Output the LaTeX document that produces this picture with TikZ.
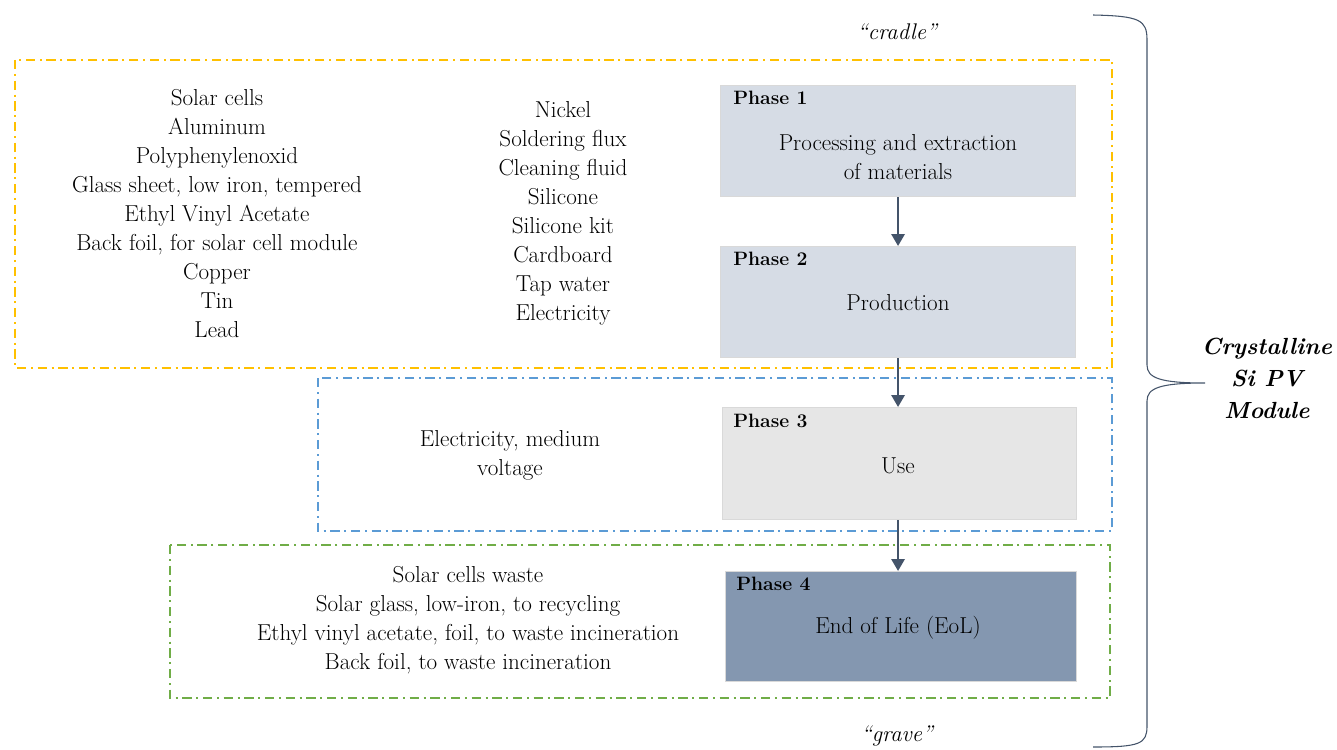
\documentclass[tikz,border=0pt]{standalone}
\usetikzlibrary{arrows.meta,decorations.pathreplacing}
\definecolor{ylw}{HTML}{FFC000}
\definecolor{blu}{HTML}{5B9BD5}
\definecolor{grn}{HTML}{70AD47}
\definecolor{pone}{HTML}{D6DCE5}
\definecolor{pthree}{HTML}{E6E6E6}
\definecolor{pfour}{HTML}{8497B0}
\definecolor{arr}{HTML}{44546A}
\begin{document}
\begin{tikzpicture}[x=0.75pt,y=-0.75pt,
  zone/.style={line width=1.5pt,dash pattern=on 7pt off 3.5pt on 1.5pt off 3.5pt},
  phasebox/.style={draw=white!85!black,line width=0.8pt,inner sep=0pt,anchor=north west},
  plabel/.style={font=\fontsize{14.5}{16}\selectfont\bfseries,anchor=north west,inner sep=0pt},
  ptext/.style={font=\fontsize{17.3}{21.75}\selectfont,align=center},
  list/.style={font=\fontsize{17.3}{21.75}\selectfont,align=center,anchor=north},
  flow/.style={draw=arr,line width=1.6pt,-{Triangle[length=9pt,width=10pt]}}]
\useasboundingbox (0,0) rectangle (1337,749);
% zones
\draw[zone,ylw] (15,60) rectangle (1112,368);
\draw[zone,blu] (318,378) rectangle (1112,531);
\draw[zone,grn] (170,545) rectangle (1110,698);
% phase boxes
\node[phasebox,fill=pone,minimum width=355*0.75pt,minimum height=111*0.75pt] (p1) at (720,85) {};
\node[phasebox,fill=pone,minimum width=355*0.75pt,minimum height=111*0.75pt] (p2) at (720,246) {};
\node[phasebox,fill=pthree,minimum width=354*0.75pt,minimum height=112*0.75pt] (p3) at (722,407) {};
\node[phasebox,fill=pfour,minimum width=351*0.75pt,minimum height=110*0.75pt] (p4) at (725,571) {};
\node[plabel] (l1) at (733,91) {Phase 1};
\node[plabel] (l2) at (733,252) {Phase 2};
\node[plabel] (l3) at (733,414) {Phase 3};
\node[plabel] (l4) at (736,577) {Phase 4};
\node[ptext] (t1) at (898,157) {Processing and extraction\\of materials};
\node[ptext] (t2) at (898,303) {Production};
\node[ptext] (t3) at (898,466) {Use};
\node[ptext] (t4) at (898,628) {End of Life (EoL)};
% arrows
\draw[flow] (p1.south) -- (p1.south |- p2.north);
\draw[flow] (p2.south) -- (p2.south |- p3.north);
\draw[flow] (p3.south -| p2.south) -- (p2.south |- p4.north);
% lists
\node[list] (m1) at (217,85) {Solar cells\\Aluminum\\Polyphenylenoxid\\Glass sheet, low iron, tempered\\Ethyl Vinyl Acetate\\Back foil, for solar cell module\\Copper\\Tin\\Lead};
\node[list] (m2) at (563,97) {Nickel\\Soldering flux\\Cleaning fluid\\Silicone\\Silicone kit\\Cardboard\\Tap water\\Electricity};
\node[ptext] (m3) at (510,455) {Electricity, medium\\voltage};
\node[list] (m4) at (468,562) {Solar cells waste\\Solar glass, low-iron, to recycling\\Ethyl vinyl acetate, foil, to waste incineration\\Back foil, to waste incineration};
% cradle / grave
\node[ptext,font=\fontsize{17}{20}\selectfont\itshape] (cr) at (897,32) {``cradle''};
\node[ptext,font=\fontsize{17}{20}\selectfont\itshape] (gr) at (897,736) {``grave''};
% brace
\coordinate (bt) at (1093,15);
\coordinate (bm) at (1205,383);
\coordinate (bb) at (1093,747);
\draw[arr,line width=0.8pt] (bt) .. controls (1140,16) and (1147,20) .. (1147,40)
  -- (1147,365) .. controls (1147,378) and (1160,383) .. (bm)
  .. controls (1160,383) and (1147,388) .. (1147,401)
  -- (1147,726) .. controls (1147,744) and (1140,747) .. (bb);
\node[ptext,font=\fontsize{17.5}{24}\selectfont\bfseries\itshape] (cs) at (1267,378) {Crystalline\\Si PV\\Module};
\end{tikzpicture}
\end{document}
